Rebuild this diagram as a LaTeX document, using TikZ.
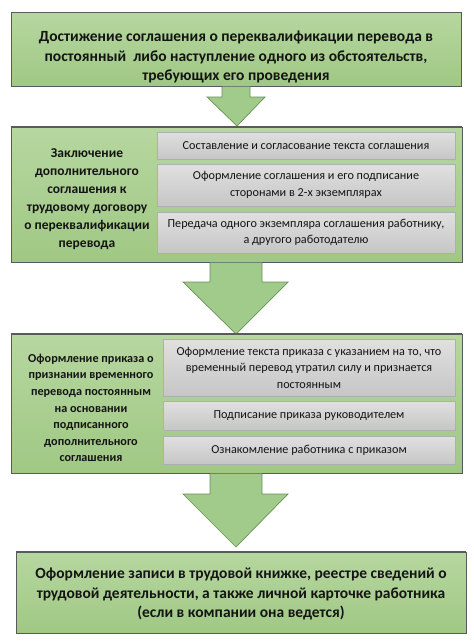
\documentclass[tikz,border=0pt]{standalone}
\usepackage{fontspec}
\setmainfont{Carlito}
\definecolor{gtop}{RGB}{182,215,160}
\definecolor{gbot}{RGB}{160,200,132}
\definecolor{gedge}{RGB}{90,90,90}
\definecolor{afill}{RGB}{160,203,138}
\definecolor{aedge}{RGB}{105,145,85}
\definecolor{stop}{RGB}{224,224,224}
\definecolor{sbot}{RGB}{198,198,198}
\definecolor{sedge}{RGB}{175,175,175}
\definecolor{txt}{RGB}{20,20,20}
\tikzset{
  mainbox/.style={draw=gedge,line width=0.9pt,top color=gtop,bottom color=gbot,inner sep=0pt},
  subbox/.style={draw=sedge,line width=0.6pt,top color=stop,bottom color=sbot,inner sep=0pt},
  bigtxt/.style={font=\fontsize{15.5}{19.5}\selectfont\bfseries,text=txt,align=center,inner sep=0pt},
  lbltxtA/.style={font=\fontsize{13.5}{18}\selectfont\bfseries,text=txt,align=center,inner sep=0pt},
  lbltxtB/.style={font=\fontsize{12.2}{16.6}\selectfont\bfseries,text=txt,align=center,inner sep=0pt},
  subtxt/.style={font=\fontsize{12.2}{16.5}\selectfont,text=txt,align=center,inner sep=0pt}
}
\begin{document}
\begin{tikzpicture}[x=1pt,y=-1pt]
\useasboundingbox (0,0) rectangle (474,643);
% main boxes
\node[mainbox,minimum width=450pt,minimum height=74pt] (b1) at (236,49) {};
\node[mainbox,minimum width=451pt,minimum height=135pt] (b2) at (236.5,194.5) {};
\node[mainbox,minimum width=451pt,minimum height=139pt] (b3) at (236.5,403.5) {};
\node[mainbox,minimum width=450pt,minimum height=81pt] (b4) at (241,592.5) {};
% arrows
\fill[afill] (222,86.5) -- (222,97) -- (207,97) -- (237,126) -- (265,97) -- (250,97) -- (250,86.5) -- cycle;
\draw[aedge,line width=0.7pt] (222,87) -- (222,97) -- (207,97) -- (237,126) -- (265,97) -- (250,97) -- (250,87);
\fill[afill] (210,262.5) -- (210,282) -- (183,282) -- (236,334) -- (288,282) -- (262,282) -- (262,262.5) -- cycle;
\draw[aedge,line width=0.7pt] (210,263) -- (210,282) -- (183,282) -- (236,334) -- (288,282) -- (262,282) -- (262,263);
\fill[afill] (210,473.5) -- (210,494) -- (183,494) -- (236,547) -- (288,494) -- (262,494) -- (262,473.5) -- cycle;
\draw[aedge,line width=0.7pt] (210,474) -- (210,494) -- (183,494) -- (236,547) -- (288,494) -- (262,494) -- (262,474);
% redraw box tops over arrow tips
\draw[gedge,line width=0.9pt] (b2.north west) -- (b2.north east);
\draw[gedge,line width=0.9pt] (b3.north west) -- (b3.north east);
\draw[gedge,line width=0.9pt] (b4.north west) -- (b4.north east);
% box 1 text
\node[bigtxt] (t1) at (236,57) {Достижение соглашения о переквалификации перевода в\\постоянный\ \ либо наступление одного\ из обстоятельств,\\требующих его проведения};
% box 2
\node[subbox,minimum width=298pt,minimum height=27pt] (s21) at (306,145.5) {};
\node[subbox,minimum width=298pt,minimum height=42pt] (s22) at (306,185) {};
\node[subbox,minimum width=298pt,minimum height=41pt] (s23) at (306,232.5) {};
\node[subtxt] at (s21) {Составление и согласование текста соглашения};
\node[subtxt] at (s22) {Оформление соглашения и его подписание\\сторонами в 2-х экземплярах};
\node[subtxt] at (s23) {Передача одного экземпляра соглашения работнику,\\а другого работодателю};
\node[lbltxtA] (l2) at (87,199) {Заключение\\дополнительного\\соглашения к\\трудовому договору\\о переквалификации\\перевода};
% box 3
\node[subbox,minimum width=292pt,minimum height=57pt] (s31) at (309,367.5) {};
\node[subbox,minimum width=292pt,minimum height=29pt] (s32) at (309,415.5) {};
\node[subbox,minimum width=292pt,minimum height=28pt] (s33) at (309,450) {};
\node[subtxt] at (s31) {Оформление текста приказа с указанием на то, что\\временный перевод утратил силу и признается\\постоянным};
\node[subtxt] at (s32) {Подписание приказа руководителем};
\node[subtxt] at (s33) {Ознакомление работника с приказом};
\node[lbltxtB] (l3) at (91,408) {Оформление приказа о\\признании временного\\перевода постоянным\\на основании\\подписанного\\дополнительного\\соглашения};
% box 4
\node[bigtxt] (t4) at (241,594) {Оформление записи в трудовой книжке, реестре сведений о\\трудовой деятельности, а также личной карточке работника\\(если в компании она ведется)};
\end{tikzpicture}
\end{document}
